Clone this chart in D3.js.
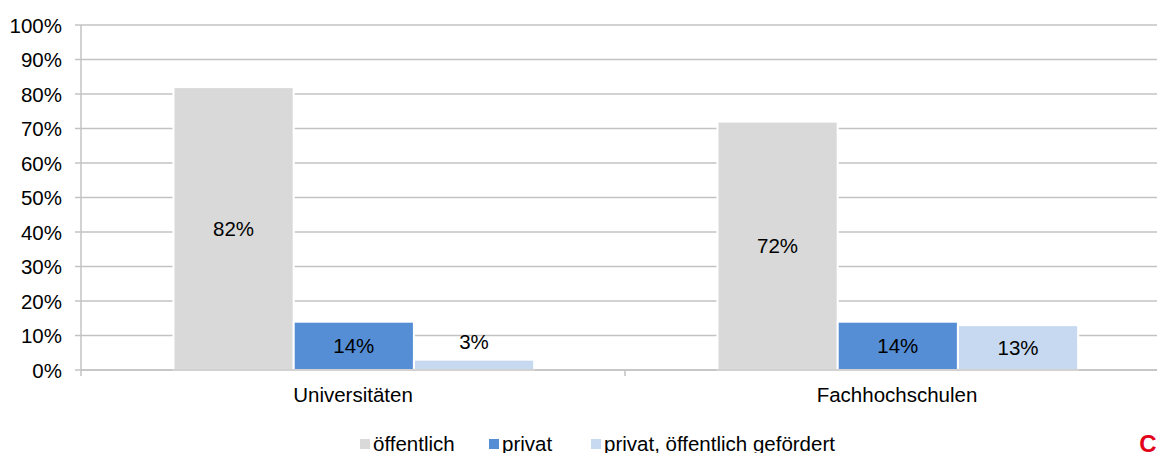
<!DOCTYPE html>
<html>
<head>
<meta charset="utf-8">
<script src="https://cdn.jsdelivr.net/npm/d3@7"></script>
<style>
  html, body { margin: 0; padding: 0; background: #fff; }
  svg { display: block; font-family: "Liberation Sans", Arial, sans-serif; }
</style>
</head>
<body>
<svg id="chart" width="1157" height="453"></svg>
<script>
// Hochschulen nach Trägerschaft
const categories = ["Universitäten", "Fachhochschulen"];
const seriesNames = ["öffentlich", "privat", "privat, öffentlich gefördert"];
const oeffentlich = [82, 72];
const privat = [14, 14];
const privatGefoerdert = [3, 13];
const yTicks = [0, 10, 20, 30, 40, 50, 60, 70, 80, 90, 100];

const seriesValues = [oeffentlich, privat, privatGefoerdert];
const colors = ["#d9d9d9", "#558ed5", "#c6d9f1"];

const svg = d3.select("#chart");
const plotLeft = 81, plotRight = 1169, plotTop = 25, plotBottom = 370;
const fontSize = 20.5;

const x0 = d3.scaleBand().domain(categories).range([plotLeft, plotRight]).padding(0);
const x1 = d3.scaleBand().domain(seriesNames)
  .range([x0.bandwidth() * 0.17, x0.bandwidth() * 0.833]).padding(0);
const y = d3.scaleLinear().domain([0, 100]).range([plotBottom, plotTop]);

// horizontal gridlines
svg.append("g").selectAll("line").data(yTicks).join("line")
  .attr("x1", plotLeft - 6).attr("x2", plotRight)
  .attr("y1", d => y(d)).attr("y2", d => y(d))
  .attr("stroke", "#c3c3c3").attr("stroke-width", 1.5);

// y axis tick labels
svg.append("g").selectAll("text").data(yTicks).join("text")
  .attr("x", 62).attr("y", d => y(d))
  .attr("text-anchor", "end").attr("dominant-baseline", "central")
  .attr("font-size", fontSize).attr("fill", "#000")
  .text(d => d + "%");

// vertical axis line
svg.append("line")
  .attr("x1", plotLeft).attr("x2", plotLeft).attr("y1", plotTop).attr("y2", plotBottom + 6)
  .attr("stroke", "#c3c3c3").attr("stroke-width", 1.5);

// category separator ticks
svg.append("g").selectAll("line").data(categories.slice(1)).join("line")
  .attr("x1", d => x0(d)).attr("x2", d => x0(d))
  .attr("y1", plotBottom).attr("y2", plotBottom + 6)
  .attr("stroke", "#c3c3c3").attr("stroke-width", 1.5);

// bars
const rows = [];
categories.forEach((c, ci) => {
  seriesNames.forEach((s, si) => {
    rows.push({ cat: c, series: s, value: seriesValues[si][ci], color: colors[si] });
  });
});

const g = svg.append("g");
g.selectAll("rect").data(rows).join("rect")
  .attr("x", d => x0(d.cat) + x1(d.series))
  .attr("width", x1.bandwidth())
  .attr("y", d => y(d.value))
  .attr("height", d => y(0) - y(d.value))
  .attr("fill", d => d.color)
  .attr("stroke", "#fff").attr("stroke-width", 2);

// baseline over bars
svg.append("line")
  .attr("x1", plotLeft).attr("x2", plotRight).attr("y1", plotBottom).attr("y2", plotBottom)
  .attr("stroke", "#c3c3c3").attr("stroke-width", 1.5);

// value labels: centered inside the bar, or just above it when too small
g.selectAll("text").data(rows).join("text")
  .attr("x", d => x0(d.cat) + x1(d.series) + x1.bandwidth() / 2)
  .attr("y", d => {
    const h = y(0) - y(d.value);
    return h > 24 ? (y(d.value) + y(0)) / 2 : y(d.value) - 18;
  })
  .attr("text-anchor", "middle").attr("dominant-baseline", "central")
  .attr("font-size", fontSize).attr("fill", "#000")
  .text(d => d.value + "%");

// category labels
svg.append("g").selectAll("text").data(categories).join("text")
  .attr("x", d => x0(d) + x0.bandwidth() / 2).attr("y", 402)
  .attr("text-anchor", "middle")
  .attr("font-size", fontSize).attr("fill", "#000")
  .text(d => d);

// legend
const legendX = [360, 489, 591];
const legend = svg.append("g").selectAll("g").data(seriesNames).join("g")
  .attr("transform", (d, i) => `translate(${legendX[i]},0)`);
legend.append("rect")
  .attr("x", 0).attr("y", 439).attr("width", 10).attr("height", 10)
  .attr("fill", (d, i) => colors[i]);
legend.append("text")
  .attr("x", 13).attr("y", 451)
  .attr("font-size", fontSize).attr("fill", "#000")
  .text(d => d);

// logo letter
svg.append("text")
  .attr("x", 1148).attr("y", 451.5).attr("text-anchor", "middle")
  .attr("font-size", 24).attr("font-weight", "bold").attr("fill", "#e2001a")
  .text("C");
</script>
</body>
</html>
